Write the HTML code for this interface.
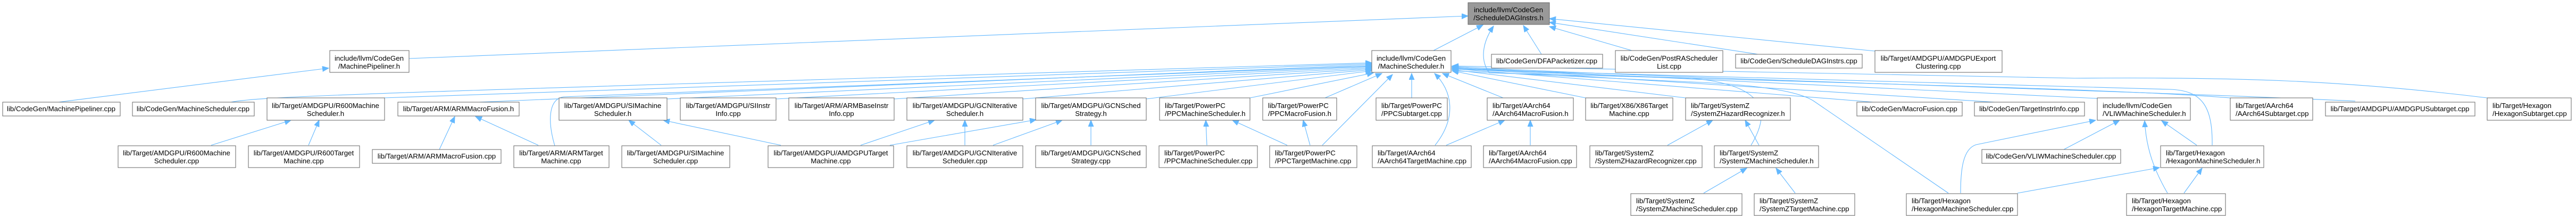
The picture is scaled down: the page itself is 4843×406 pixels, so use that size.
<!DOCTYPE html>
<html><head><meta charset="utf-8"><style>
html,body{margin:0;padding:0;background:#fff;}
svg{display:block;}
text{font-family:"Liberation Sans",Helvetica,sans-serif;font-size:13.3px;fill:#000;}
rect{fill:#fff;stroke:#666;stroke-width:1;}
.e{fill:none;stroke:#63b8ff;stroke-width:1.1;marker-end:url(#a);}
</style></head><body>
<svg width="4843" height="406" viewBox="0 0 4843 406" xmlns="http://www.w3.org/2000/svg">
<defs><marker id="a" markerUnits="userSpaceOnUse" markerWidth="14" markerHeight="12" refX="12" refY="5" orient="auto"><path d="M0,0 L12,5 L0,10 Z" fill="#63b8ff" stroke="#63b8ff"/></marker></defs>

<!-- edges to ScheduleDAGInstrs.h -->
<path class="e" d="M769,110 L2760,30"/>
<path class="e" d="M2695,95 L2788,47"/>
<path class="e" d="M2898,102 L2864,48"/>
<path class="e" d="M3068,95 L2913,50"/>
<path class="e" d="M3305,102 L2913,42"/>
<path class="e" d="M3525,96 L2913,35"/>
<path class="e" d="M3292,273 C3330,210 3320,160 3180,147 L2800,137 C2780,110 2790,75 2808,49"/>

<!-- edges to MachineScheduler.h -->
<path class="e" d="M434,192 C500,180 700,175 2579,118"/>
<path class="e" d="M5,192 M720,184 L2579,120"/>
<path class="e" d="M900,192 L2579,122"/>
<path class="e" d="M1043,274 C1030,230 1030,186 1060,182 L2579,124"/>
<path class="e" d="M1254,186 L2579,125"/>
<path class="e" d="M1459,186 L2579,127"/>
<path class="e" d="M1681,186 L2579,129"/>
<path class="e" d="M1923,186 L2579,131"/>
<path class="e" d="M2155,186 L2579,133"/>
<path class="e" d="M2350,184 L2582,137"/>
<path class="e" d="M2491,184 L2598,138"/>
<path class="e" d="M2486,273 L2618,140"/>
<path class="e" d="M2654,184 L2654,138"/>
<path class="e" d="M2698,273 C2740,220 2730,170 2697,138"/>
<path class="e" d="M2826,184 L2712,138"/>
<path class="e" d="M2981,184 L2730,133"/>
<path class="e" d="M3169,184 L2730,131"/>
<path class="e" d="M3522,192 L2730,129"/>
<path class="e" d="M3750,192 L2730,128"/>
<path class="e" d="M3943,185 L2730,127"/>
<path class="e" d="M4193,184 C3900,160 3000,150 2730,126"/>
<path class="e" d="M4428,190 C4000,170 3200,150 2730,125"/>
<path class="e" d="M4676,184 C4400,150 4200,145 3900,147 L2730,124"/>
<path class="e" d="M4159,273 C4160,200 4140,170 4080,168 L2730,130"/>
<path class="e" d="M3663,363 L3410,190 C3380,170 3300,160 3200,155 L2730,133"/>

<!-- lower edges -->
<path class="e" d="M110,192 L618,128"/>
<path class="e" d="M397,273 L547,226"/>
<path class="e" d="M580,273 L600,226"/>
<path class="e" d="M826,281 L855,219"/>
<path class="e" d="M1012,273 L894,219"/>
<path class="e" d="M1243,273 L1182,226"/>
<path class="e" d="M1468,273 L1247,226"/>
<path class="e" d="M1618,273 L1757,226"/>
<path class="e" d="M1673,273 L1948,225"/>
<path class="e" d="M1814,273 L1814,226"/>
<path class="e" d="M1867,273 L1997,226"/>
<path class="e" d="M2051,273 L2051,226"/>
<path class="e" d="M2269,273 L2267,226"/>
<path class="e" d="M2420,273 L2317,226"/>
<path class="e" d="M2463,273 L2450,226"/>
<path class="e" d="M2719,273 L2829,226"/>
<path class="e" d="M2877,273 L2877,226"/>
<path class="e" d="M3135,273 L3220,226"/>
<path class="e" d="M3307,273 L3281,226"/>
<path class="e" d="M3203,363 L3284,316"/>
<path class="e" d="M3375,363 L3339,316"/>
<path class="e" d="M3880,281 L3985,226"/>
<path class="e" d="M3686,363 C3686,320 3690,280 3715,272 L3940,226"/>
<path class="e" d="M3793,363 L4060,315"/>
<path class="e" d="M4075,363 C4050,320 4035,280 4032,227"/>
<path class="e" d="M4106,363 L4140,316"/>
<path class="e" d="M4130,273 L4064,227"/>

<!-- nodes -->
<rect x="2760" y="5" width="153" height="41" style="fill:#999"/><text x="2836" y="23" text-anchor="middle">include/llvm/CodeGen</text><text x="2836" y="38" text-anchor="middle">/ScheduleDAGInstrs.h</text>
<rect x="620" y="95" width="149" height="41"/><text x="694" y="114" text-anchor="middle">include/llvm/CodeGen</text><text x="694" y="129" text-anchor="middle">/MachinePipeliner.h</text>
<rect x="5" y="192" width="221" height="26"/><text x="115" y="209" text-anchor="middle">lib/CodeGen/MachinePipeliner.cpp</text>
<rect x="249" y="192" width="229" height="26"/><text x="363" y="209" text-anchor="middle">lib/CodeGen/MachineScheduler.cpp</text>
<rect x="502" y="184" width="221" height="42"/><text x="612" y="203" text-anchor="middle">lib/Target/AMDGPU/R600Machine</text><text x="612" y="218" text-anchor="middle">Scheduler.h</text>
<rect x="748" y="192" width="228" height="26"/><text x="862" y="209" text-anchor="middle">lib/Target/ARM/ARMMacroFusion.h</text>
<rect x="222" y="274" width="221" height="41"/><text x="332" y="292" text-anchor="middle">lib/Target/AMDGPU/R600Machine</text><text x="332" y="307" text-anchor="middle">Scheduler.cpp</text>
<rect x="467" y="274" width="209" height="41"/><text x="571" y="292" text-anchor="middle">lib/Target/AMDGPU/R600Target</text><text x="571" y="307" text-anchor="middle">Machine.cpp</text>
<rect x="700" y="281" width="242" height="26"/><text x="821" y="298" text-anchor="middle">lib/Target/ARM/ARMMacroFusion.cpp</text>
<rect x="966" y="274" width="179" height="41"/><text x="1055" y="292" text-anchor="middle">lib/Target/ARM/ARMTarget</text><text x="1055" y="307" text-anchor="middle">Machine.cpp</text>
<rect x="1051" y="184" width="203" height="42"/><text x="1152" y="203" text-anchor="middle">lib/Target/AMDGPU/SIMachine</text><text x="1152" y="218" text-anchor="middle">Scheduler.h</text>
<rect x="1279" y="184" width="180" height="42"/><text x="1369" y="203" text-anchor="middle">lib/Target/AMDGPU/SIInstr</text><text x="1369" y="218" text-anchor="middle">Info.cpp</text>
<rect x="1483" y="184" width="198" height="42"/><text x="1582" y="203" text-anchor="middle">lib/Target/ARM/ARMBaseInstr</text><text x="1582" y="218" text-anchor="middle">Info.cpp</text>
<rect x="1169" y="274" width="203" height="41"/><text x="1270" y="292" text-anchor="middle">lib/Target/AMDGPU/SIMachine</text><text x="1270" y="307" text-anchor="middle">Scheduler.cpp</text>
<rect x="1444" y="274" width="236" height="41"/><text x="1562" y="292" text-anchor="middle">lib/Target/AMDGPU/AMDGPUTarget</text><text x="1562" y="307" text-anchor="middle">Machine.cpp</text>
<rect x="1705" y="184" width="218" height="42"/><text x="1814" y="203" text-anchor="middle">lib/Target/AMDGPU/GCNIterative</text><text x="1814" y="218" text-anchor="middle">Scheduler.h</text>
<rect x="1947" y="184" width="208" height="42"/><text x="2051" y="203" text-anchor="middle">lib/Target/AMDGPU/GCNSched</text><text x="2051" y="218" text-anchor="middle">Strategy.h</text>
<rect x="2180" y="184" width="170" height="42"/><text x="2190" y="203">lib/Target/PowerPC</text><text x="2190" y="218">/PPCMachineScheduler.h</text>
<rect x="2374" y="184" width="139" height="42"/><text x="2384" y="203">lib/Target/PowerPC</text><text x="2384" y="218">/PPCMacroFusion.h</text>
<rect x="1705" y="274" width="218" height="41"/><text x="1814" y="292" text-anchor="middle">lib/Target/AMDGPU/GCNIterative</text><text x="1814" y="307" text-anchor="middle">Scheduler.cpp</text>
<rect x="1947" y="274" width="208" height="41"/><text x="2051" y="292" text-anchor="middle">lib/Target/AMDGPU/GCNSched</text><text x="2051" y="307" text-anchor="middle">Strategy.cpp</text>
<rect x="2179" y="274" width="185" height="41"/><text x="2189" y="292">lib/Target/PowerPC</text><text x="2189" y="307">/PPCMachineScheduler.cpp</text>
<rect x="2387" y="274" width="164" height="41"/><text x="2397" y="292">lib/Target/PowerPC</text><text x="2397" y="307">/PPCTargetMachine.cpp</text>
<rect x="2579" y="95" width="149" height="41"/><text x="2653" y="114" text-anchor="middle">include/llvm/CodeGen</text><text x="2653" y="129" text-anchor="middle">/MachineScheduler.h</text>
<rect x="2804" y="102" width="209" height="26"/><text x="2908" y="119" text-anchor="middle">lib/CodeGen/DFAPacketizer.cpp</text>
<rect x="3037" y="95" width="202" height="41"/><text x="3138" y="114" text-anchor="middle">lib/CodeGen/PostRAScheduler</text><text x="3138" y="129" text-anchor="middle">List.cpp</text>
<rect x="2587" y="184" width="134" height="42"/><text x="2597" y="203">lib/Target/PowerPC</text><text x="2597" y="218">/PPCSubtarget.cpp</text>
<rect x="2796" y="184" width="162" height="42"/><text x="2806" y="203">lib/Target/AArch64</text><text x="2806" y="218">/AArch64MacroFusion.h</text>
<rect x="2981" y="184" width="164" height="42"/><text x="3063" y="203" text-anchor="middle">lib/Target/X86/X86Target</text><text x="3063" y="218" text-anchor="middle">Machine.cpp</text>
<rect x="3169" y="184" width="197" height="42"/><text x="3179" y="203">lib/Target/SystemZ</text><text x="3179" y="218">/SystemZHazardRecognizer.h</text>
<rect x="2580" y="274" width="186" height="41"/><text x="2590" y="292">lib/Target/AArch64</text><text x="2590" y="307">/AArch64TargetMachine.cpp</text>
<rect x="2789" y="274" width="175" height="41"/><text x="2799" y="292">lib/Target/AArch64</text><text x="2799" y="307">/AArch64MacroFusion.cpp</text>
<rect x="2989" y="274" width="211" height="41"/><text x="2999" y="292">lib/Target/SystemZ</text><text x="2999" y="307">/SystemZHazardRecognizer.cpp</text>
<rect x="3066" y="364" width="209" height="41"/><text x="3076" y="382">lib/Target/SystemZ</text><text x="3076" y="397">/SystemZMachineScheduler.cpp</text>
<rect x="3263" y="102" width="238" height="26"/><text x="3382" y="119" text-anchor="middle">lib/CodeGen/ScheduleDAGInstrs.cpp</text>
<rect x="3525" y="95" width="239" height="41"/><text x="3644" y="114" text-anchor="middle">lib/Target/AMDGPU/AMDGPUExport</text><text x="3644" y="129" text-anchor="middle">Clustering.cpp</text>
<rect x="3491" y="192" width="198" height="26"/><text x="3590" y="209" text-anchor="middle">lib/CodeGen/MacroFusion.cpp</text>
<rect x="3712" y="192" width="207" height="26"/><text x="3815" y="209" text-anchor="middle">lib/CodeGen/TargetInstrInfo.cpp</text>
<rect x="3943" y="184" width="175" height="42"/><text x="3953" y="203">include/llvm/CodeGen</text><text x="3953" y="218">/VLIWMachineScheduler.h</text>
<rect x="3223" y="274" width="196" height="41"/><text x="3233" y="292">lib/Target/SystemZ</text><text x="3233" y="307">/SystemZMachineScheduler.h</text>
<rect x="3298" y="364" width="189" height="41"/><text x="3308" y="382">lib/Target/SystemZ</text><text x="3308" y="397">/SystemZTargetMachine.cpp</text>
<rect x="3726" y="281" width="261" height="26"/><text x="3856" y="298" text-anchor="middle">lib/CodeGen/VLIWMachineScheduler.cpp</text>
<rect x="3584" y="364" width="209" height="41"/><text x="3594" y="382">lib/Target/Hexagon</text><text x="3594" y="397">/HexagonMachineScheduler.cpp</text>
<rect x="4193" y="184" width="155" height="42"/><text x="4203" y="203">lib/Target/AArch64</text><text x="4203" y="218">/AArch64Subtarget.cpp</text>
<rect x="4372" y="192" width="281" height="26"/><text x="4512" y="209" text-anchor="middle">lib/Target/AMDGPU/AMDGPUSubtarget.cpp</text>
<rect x="4676" y="184" width="158" height="42"/><text x="4686" y="203">lib/Target/Hexagon</text><text x="4686" y="218">/HexagonSubtarget.cpp</text>
<rect x="4062" y="274" width="194" height="41"/><text x="4072" y="292">lib/Target/Hexagon</text><text x="4072" y="307">/HexagonMachineScheduler.h</text>
<rect x="3998" y="364" width="186" height="41"/><text x="4008" y="382">lib/Target/Hexagon</text><text x="4008" y="397">/HexagonTargetMachine.cpp</text>
</svg>
</body></html>
